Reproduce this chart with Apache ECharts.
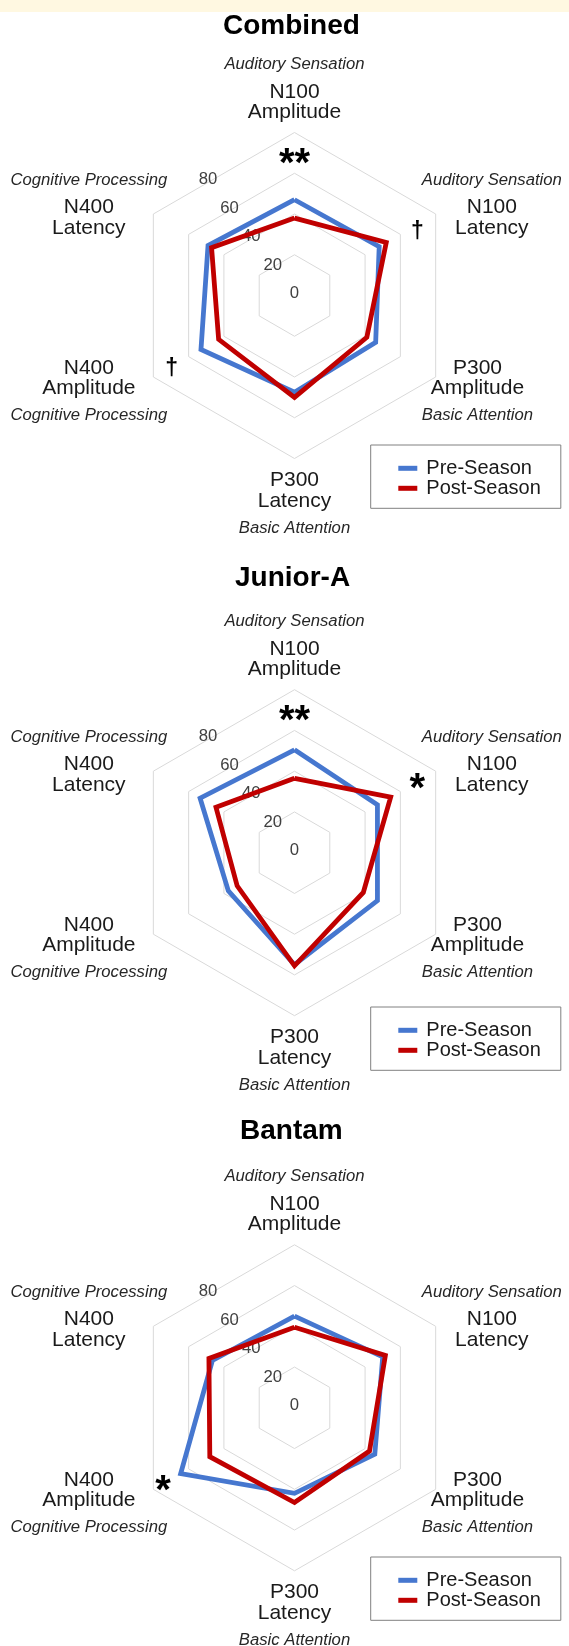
<!DOCTYPE html>
<html><head><meta charset="utf-8">
<script src="https://cdn.jsdelivr.net/npm/echarts@6/dist/echarts.min.js"></script>
<style>
html,body{margin:0;padding:0;background:#fff;}
#strip{position:absolute;left:0;top:0;width:569px;height:12px;background:#fff8e1;}
#chart{position:absolute;left:0;top:0;width:569px;height:1646px;}
</style></head><body>
<div id="strip"></div>
<div id="chart"></div>
<script>
// ---------------- data ----------------
const axisNames = ['N100 Amplitude', 'N100 Latency', 'P300 Amplitude', 'P300 Latency', 'N400 Amplitude', 'N400 Latency'];
const axisDomains = ['Auditory Sensation', 'Auditory Sensation', 'Basic Attention', 'Basic Attention', 'Cognitive Processing', 'Cognitive Processing'];
const axisMax = 80;
const tickLabels = [0, 20, 40, 60, 80];
const panelTitles = ['Combined', 'Junior-A', 'Bantam'];
const seriesNames = ['Pre-Season', 'Post-Season'];

const combinedPre  = [47, 48, 46, 47.5, 53, 49];
const combinedPost = [38, 52, 41, 50, 43, 47];
const juniorPre    = [50.5, 47, 47, 55, 37.5, 53.5];
const juniorPost   = [36.5, 54.5, 39, 55.5, 32.5, 44.5];
const bantamPre    = [45, 50, 45.5, 42, 64.5, 46.5];
const bantamPost   = [39.5, 51.5, 42.5, 46.5, 48, 48.5];

const combinedSig = ['**', '†', '', '', '†', ''];
const juniorSig   = ['**', '*', '', '', '', ''];
const bantamSig   = ['', '', '', '', '*', ''];

// ---------------- layout / style ----------------
const FONT = '"Liberation Sans", Arial, sans-serif';
const COLORS = ['#4677cf', '#c00000'];
const R = 163;
const CX = 294.5;
const panels = [
  { title: panelTitles[0], pre: combinedPre, post: combinedPost, sig: combinedSig,
    sigR: [68, 69.6, 0, 0, 69.6, 0], sigDy: [8, 7, 0, 0, 2, 0],
    cy: 295.5, titleTop: 7, titleLeft: 218, legendTop: 445 },
  { title: panelTitles[1], pre: juniorPre, post: juniorPost, sig: juniorSig,
    sigR: [68.2, 69.6, 0, 0, 0, 0], sigDy: [8, 8, 0, 0, 0, 0],
    cy: 852.7, titleTop: 559, titleLeft: 230, legendTop: 1007 },
  { title: panelTitles[2], pre: bantamPre, post: bantamPost, sig: bantamSig,
    sigR: [0, 0, 0, 0, 74.5, 0], sigDy: [0, 0, 0, 0, 8, 0],
    cy: 1407.8, titleTop: 1112, titleLeft: 235, legendTop: 1557 }
];

// ECharts lays indicators counter-clockwise; reference is clockwise from top
const order = [0, 5, 4, 3, 2, 1];
const placement = ['top', 'up', 'down', 'bottom', 'down', 'up'];

function nameText(name) {
  const k = axisNames.indexOf(name);
  const parts = axisNames[k].split(' ');
  const dom = '{i|' + axisDomains[k] + '}';
  const n = '{n|' + parts[0] + '}\n{n|' + parts[1] + '}';
  switch (placement[k]) {
    case 'top': return dom + '\n' + n + '\n{sTop| }';
    case 'up': return dom + '\n' + n + '\n{sUp| }';
    case 'down': return '{sDown| }\n' + n + '\n' + dom;
    default: return '{sBot| }\n' + n + '\n' + dom;
  }
}

const nameRich = {
  i: { fontFamily: FONT, fontStyle: 'italic', fontSize: 16.7, lineHeight: 34, color: '#262626', align: 'center' },
  n: { fontFamily: FONT, fontSize: 21, lineHeight: 20.5, color: '#1a1a1a', align: 'center' },
  sTop: { fontSize: 1, lineHeight: 26 },
  sUp: { fontSize: 1, lineHeight: 43 },
  sDown: { fontSize: 1, lineHeight: 52 },
  sBot: { fontSize: 1, lineHeight: 27.5 }
};

const radars = [], series = [], titles = [], legends = [];

panels.forEach(function (p) {
  const mainIdx = radars.length;
  radars.push({
    center: [CX, p.cy],
    radius: R,
    startAngle: 90,
    shape: 'polygon',
    splitNumber: 4,
    indicator: order.map(function (k) { return { name: axisNames[k], min: 0, max: axisMax }; }),
    axisName: { show: true, formatter: nameText, rich: nameRich },
    nameGap: -16,
    axisLine: { show: false },
    axisTick: { show: false },
    axisLabel: { show: false },
    splitArea: { show: false },
    splitLine: { lineStyle: { color: '#d9d9d9', width: 1 } }
  });
  // second, invisible radar used only to carry the diagonal tick labels
  radars.push({
    center: [CX, p.cy - 2],
    radius: 143.2,
    startAngle: 127.2,
    splitNumber: 4,
    indicator: [{ name: '', min: 0, max: axisMax }],
    axisName: { show: false },
    axisLine: { show: false },
    axisTick: { show: false },
    splitArea: { show: false },
    splitLine: { show: false },
    axisLabel: {
      show: true, margin: 0, align: 'center', verticalAlign: 'middle',
      fontFamily: FONT, fontSize: 16.7, color: '#404040',
      formatter: function (v) { return tickLabels.indexOf(v) >= 0 ? String(v) : ''; }
    }
  });

  series.push({
    type: 'radar',
    radarIndex: mainIdx,
    symbol: 'none',
    silent: true,
    z: 3,
    data: [p.pre, p.post].map(function (vals, si) {
      return {
        name: seriesNames[si],
        value: order.map(function (k) { return vals[k]; }),
        itemStyle: { color: COLORS[si] },
        lineStyle: { color: COLORS[si], width: 4.8, join: 'miter' }
      };
    })
  });

  // significance markers
  const markItems = [];
  p.sig.forEach(function (mark, k) {
    if (!mark) return;
    const isDagger = mark === '†';
    markItems.push({
      name: 'sig',
      value: order.map(function (j) { return j === k ? p.sigR[k] : null; }),
      label: {
        show: true,
        position: 'inside',
        color: '#000',
        fontFamily: FONT,
        fontWeight: 'bold',
        fontSize: isDagger ? 23 : 40,
        offset: [0, p.sigDy[k]],
        formatter: function (prm) {
          const v = Number(prm.value);
          return (prm.value === null || prm.value === '' || isNaN(v) || v <= 0) ? '' : mark;
        }
      }
    });
  });
  series.push({
    type: 'radar',
    radarIndex: mainIdx,
    symbol: 'circle',
    symbolSize: 1,
    silent: true,
    z: 4,
    itemStyle: { color: 'rgba(0,0,0,0)' },
    lineStyle: { width: 0, color: 'rgba(0,0,0,0)' },
    data: markItems
  });

  titles.push({
    text: p.title,
    left: p.titleLeft,
    top: p.titleTop,
    textStyle: { fontFamily: FONT, fontSize: 28, fontWeight: 'bold', color: '#000' }
  });

  legends.push({
    data: seriesNames.slice(),
    orient: 'vertical',
    left: 370.7,
    top: p.legendTop,
    padding: [13.3, 20, 10, 27.6],
    itemGap: 0,
    itemWidth: 19,
    itemHeight: 5,
    icon: 'rect',
    borderColor: '#808080',
    borderWidth: 1,
    selectedMode: false,
    textStyle: { fontFamily: FONT, fontSize: 20, lineHeight: 20, color: '#1a1a1a', padding: [0, 0, 0, 4] }
  });
});

const chart = echarts.init(document.getElementById('chart'), null, { renderer: 'canvas' });
chart.setOption({
  animation: false,
  backgroundColor: 'transparent',
  title: titles,
  legend: legends,
  radar: radars,
  series: series
});
</script>
</body></html>
